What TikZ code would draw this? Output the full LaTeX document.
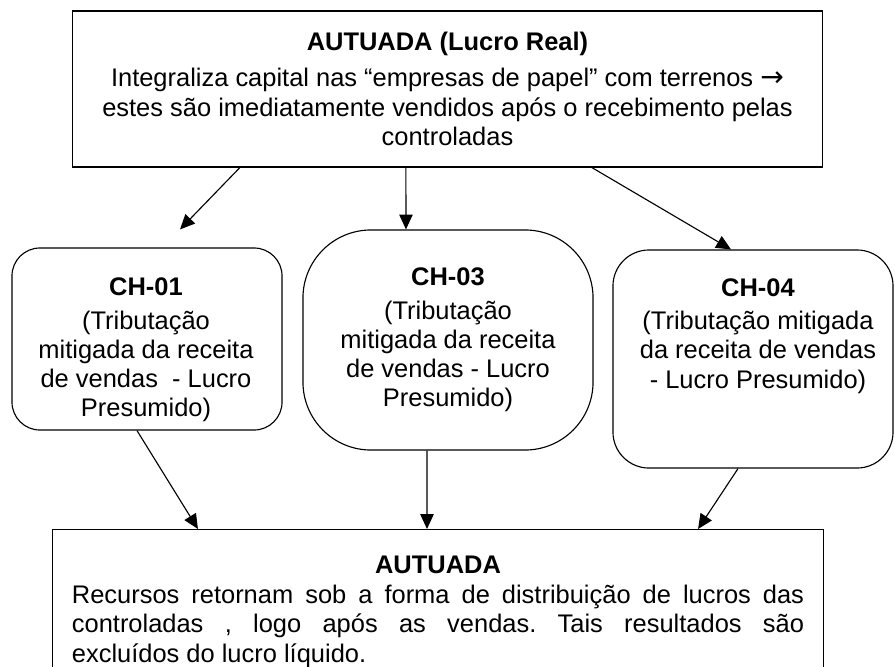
\documentclass[tikz,border=0pt]{standalone}
\usepackage{fontspec}
\setmainfont{Liberation Sans}
\newfontfamily\arrowfont{DejaVu Sans}
\usetikzlibrary{arrows.meta}
\frenchspacing

\begin{document}
\begin{tikzpicture}[x=0.025cm,y=-0.025cm,
  every node/.style={font=\fontsize{18.1}{20.8}\selectfont},
  box/.style={draw,line width=0.8pt},
  chbox/.style={draw,line width=0.8pt},
  chtext/.style={align=center,inner sep=0pt},
  arr/.style={-{Triangle[length=10.5pt,width=9.5pt]},line width=0.8pt}]
\useasboundingbox (0,0) rectangle (895,666);
\clip (0,0) rectangle (895,666);

\node[box,minimum width=18.725cm,minimum height=3.9cm,align=center] (top) at (447.5,89)
  {\textbf{AUTUADA (Lucro Real)}\\[5pt]
   Integraliza capital nas “empresas de papel” com terrenos {\arrowfont\fontsize{20}{20.8}\selectfont →}\\
   estes são imediatamente vendidos após o recebimento pelas\\
   controladas};

\node[chbox,minimum width=6.75cm,minimum height=4.55cm,rounded corners=0.7cm] (ch01) at (147,339) {};
\node[chtext] (t01) at (146,350) {\textbf{CH-01}\\[3pt](Tributação\\mitigada da receita\\de vendas\ \ - Lucro\\Presumido)};

\node[chbox,minimum width=7.25cm,minimum height=5.5cm,rounded corners=1.7cm] (ch03) at (448,340) {};
\node[chtext] (t03) at (448,340) {\textbf{CH-03}\\[3pt](Tributação\\mitigada da receita\\de vendas - Lucro\\Presumido)};

\node[chbox,minimum width=7cm,minimum height=5.45cm,rounded corners=0.9cm] (ch04) at (753,359) {};
\node[chtext] (t04) at (758,336) {\textbf{CH-04}\\[3pt](Tributação mitigada\\da receita de vendas\\- Lucro Presumido)};

\node[box,anchor=north,minimum width=19.25cm,text width=18.3cm,inner ysep=0.65cm,align=left] (bot) at (438,529)
  {\spaceskip=0pt \xspaceskip=0pt
   \makebox[18.3cm][c]{\textbf{AUTUADA}}\\[1pt]
   \makebox[18.3cm][s]{Recursos retornam sob a forma de distribuição de lucros das}\\
   \makebox[18.3cm][s]{controladas , logo após as vendas. Tais resultados são}\\
   excluídos do lucro líquido.};

\draw[arr] ([xshift=-5.19cm]top.south) -- ([xshift=0.825cm,yshift=0.45cm]ch01.north);
\draw[arr] ([xshift=-1.04cm]top.south) -- ([xshift=-1.05cm]ch03.north);
\draw[arr] ([xshift=3.61cm]top.south) -- ([xshift=-0.55cm]ch04.north);
\draw[arr] ([xshift=-0.25cm]ch01.south) -- ([xshift=-6cm]bot.north);
\draw[arr] ([xshift=-0.525cm]ch03.south) -- ([xshift=-0.275cm]bot.north);
\draw[arr] ([xshift=-0.375cm]ch04.south) -- ([xshift=6.5cm]bot.north);
\end{tikzpicture}
\end{document}
